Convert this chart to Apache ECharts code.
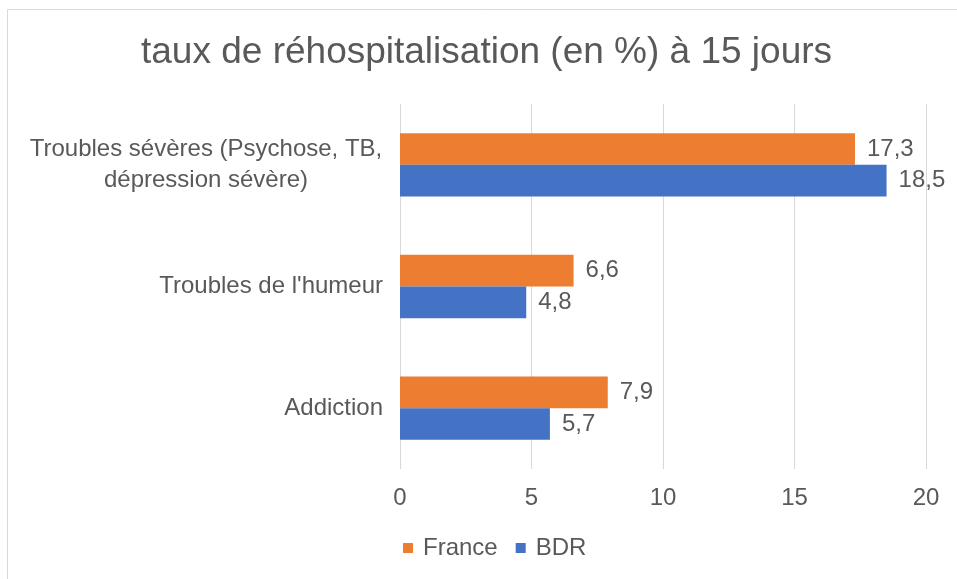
<!DOCTYPE html>
<html>
<head>
<meta charset="utf-8">
<script src="https://cdn.jsdelivr.net/npm/echarts@6/dist/echarts.min.js"></script>
<style>
html,body{margin:0;padding:0;background:#fff;}
#chart{width:957px;height:579px;}
</style>
</head>
<body>
<div id="chart"></div>
<script>
// Data (bottom to top as drawn by the category axis)
const categories = ['Addiction', "Troubles de l'humeur", 'Troubles sévères (Psychose, TB,\ndépression sévère)'];
const franceValues = [7.9, 6.6, 17.3];
const bdrValues = [5.7, 4.8, 18.5];
const xTicks = [0, 5, 10, 15, 20];
const seriesNames = ['France', 'BDR'];

const textColor = '#595959';
const font = 'Liberation Sans, Arial, sans-serif';

const chart = echarts.init(document.getElementById('chart'));

function catLabel(v) {
  if (v.indexOf('\n') >= 0) {
    return v.split('\n').map(l => '{c|' + l + '}').join('\n');
  }
  return v;
}

const labelCfg = {
  show: true,
  position: 'right',
  distance: 12,
  color: textColor,
  fontSize: 24,
  fontFamily: font,
  formatter: p => String(p.value).replace('.', ',')
};

chart.setOption({
  animation: false,
  backgroundColor: '#fff',
  graphic: [{
    type: 'rect',
    shape: { x: 7.5, y: 9.5, width: 1000, height: 1000 },
    style: { fill: 'none', stroke: '#D9D9D9', lineWidth: 1 },
    silent: true
  }],
  title: {
    text: 'taux de réhospitalisation (en %) à 15 jours',
    left: 141,
    top: 34,
    padding: 0,
    textStyle: { color: textColor, fontSize: 37, fontWeight: 'normal', fontFamily: font }
  },
  legend: {
    data: seriesNames,
    left: 403,
    top: 536,
    padding: 0,
    itemWidth: 10,
    itemHeight: 10,
    itemGap: 18,
    icon: 'rect',
    textStyle: { color: textColor, fontSize: 24, fontFamily: font, padding: [0, 0, 0, 5] }
  },
  grid: { left: 400, right: 31, top: 104, bottom: 110, containLabel: false },
  xAxis: {
    type: 'value',
    min: xTicks[0],
    max: xTicks[xTicks.length - 1],
    interval: xTicks[1] - xTicks[0],
    axisLine: { show: false },
    axisTick: { show: false },
    splitLine: { show: true, lineStyle: { color: '#D9D9D9', width: 1 } },
    axisLabel: { color: textColor, fontSize: 24, fontFamily: font, margin: 17 }
  },
  yAxis: {
    type: 'category',
    data: categories,
    axisLine: { show: false },
    axisTick: { show: false },
    splitLine: { show: false },
    axisLabel: {
      color: textColor,
      fontSize: 24,
      fontFamily: font,
      margin: 17,
      lineHeight: 31,
      align: 'right',
      formatter: catLabel,
      rich: {
        c: { width: 354, align: 'center', fontSize: 24, lineHeight: 31, color: textColor, fontFamily: font }
      }
    }
  },
  series: [
    {
      name: seriesNames[0],
      type: 'bar',
      data: franceValues,
      itemStyle: { color: '#ED7D31' },
      barGap: '0%',
      barCategoryGap: '48%',
      label: labelCfg
    },
    {
      name: seriesNames[1],
      type: 'bar',
      data: bdrValues,
      itemStyle: { color: '#4472C4' },
      barGap: '0%',
      barCategoryGap: '48%',
      label: labelCfg
    }
  ]
});
</script>
</body>
</html>
